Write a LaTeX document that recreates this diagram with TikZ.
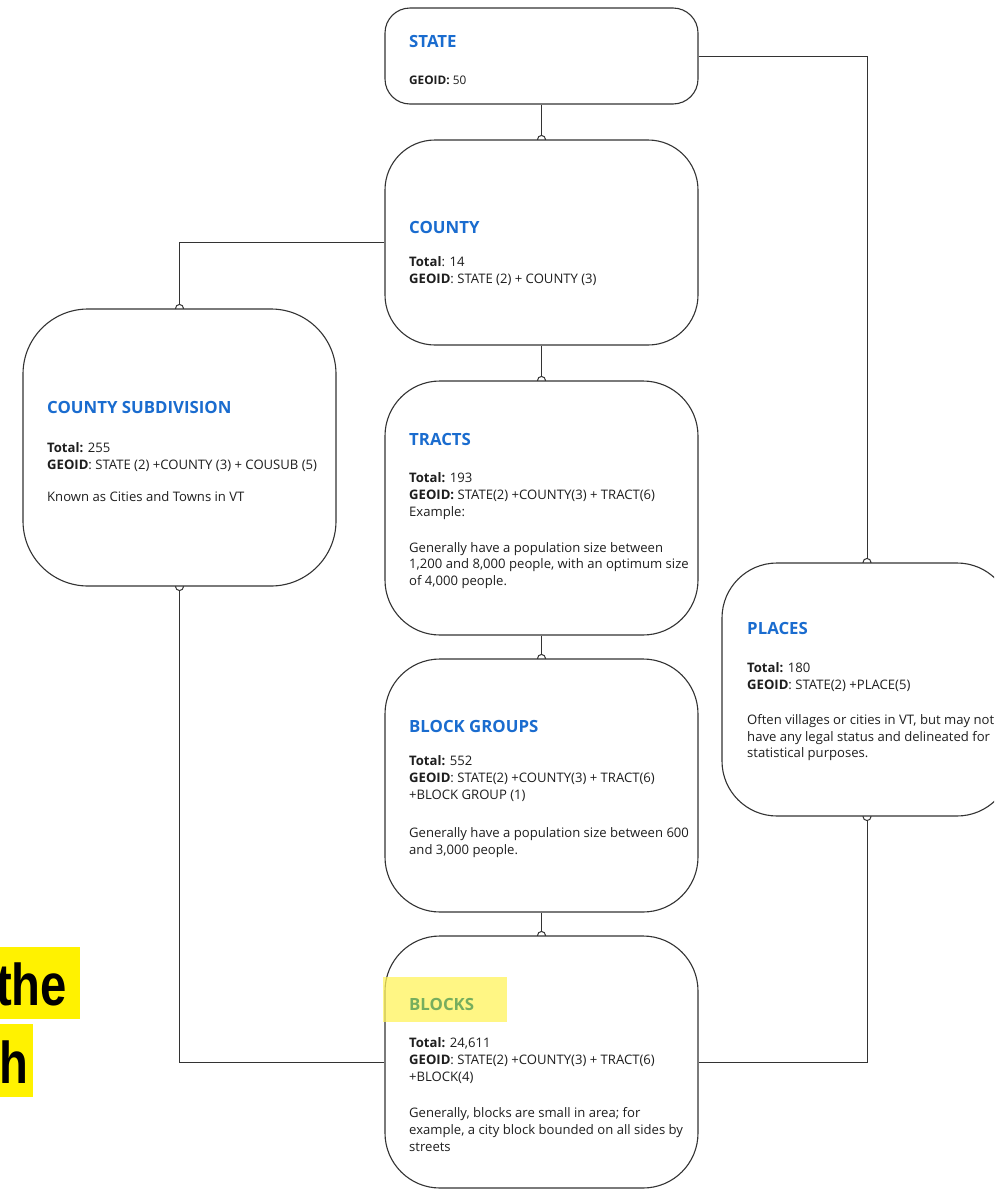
\documentclass[tikz,border=0pt]{standalone}
\usepackage{fontspec}
\setmainfont{Open Sans}
\newfontfamily\hlfont{Liberation Sans}
\usetikzlibrary{backgrounds}
\definecolor{ttl}{HTML}{1A6CCF}
\definecolor{ln}{HTML}{333333}
\definecolor{txt}{HTML}{1E1E1E}
\definecolor{grn}{HTML}{76AE5E}
\definecolor{hl}{HTML}{FFF35C}
\tikzset{
  box/.style={draw=ln, line width=1.1pt, fill=white, rectangle, inner sep=0pt},
  conn/.style={draw=ln, line width=1pt},
  dot/.style={draw=ln, line width=1pt, fill=white},
  ttlt/.style={anchor=base west, inner sep=0pt, text=ttl, font=\fontsize{16.8}{19}\selectfont\bfseries},
  bt/.style={anchor=base west, inner sep=0pt, text=txt, font=\fontsize{13.1}{15}\selectfont},
  st/.style={anchor=base west, inner sep=0pt, text=txt, font=\fontsize{11.8}{13}\selectfont},
  bigt/.style={anchor=base west, inner sep=0pt, text=black, font=\hlfont\bfseries\fontsize{59}{60}\selectfont},
}
\begin{document}
\begin{tikzpicture}[x=1pt,y=-1pt]
\useasboundingbox (0,0) rectangle (994,1189);
\clip (0,0) rectangle (994,1189);
% boxes
\node[box, rounded corners=25pt, minimum width=313pt, minimum height=96pt] (state) at (541.5,56) {};
\node[box, rounded corners=50pt, minimum width=313pt, minimum height=205pt] (county) at (541.5,242.5) {};
\node[box, rounded corners=65pt, minimum width=313pt, minimum height=277pt] (cs) at (179.5,447.5) {};
\node[box, rounded corners=55pt, minimum width=313pt, minimum height=254pt] (tracts) at (541.5,508) {};
\node[box, rounded corners=55pt, minimum width=313pt, minimum height=253pt] (bg) at (541.5,785.5) {};
\node[box, rounded corners=55pt, minimum width=313pt, minimum height=252pt] (blocks) at (541.5,1062) {};
\node[box, rounded corners=55pt, minimum width=290pt, minimum height=253pt] (places) at (867,689.5) {};
% connectors
\begin{scope}[on background layer]
  \fill[white] (0,0) rectangle (994,1189);
  \draw[conn] (state.south) -- (county.north);
  \draw[dot] (county.north) circle (4pt);
  \draw[conn] (state.east) -| (places.north);
  \draw[dot] (places.north) circle (4pt);
  \draw[conn] (county.west) -| (cs.north);
  \draw[dot] (cs.north) circle (4pt);
  \draw[conn] (county.south) -- (tracts.north);
  \draw[dot] (tracts.north) circle (4pt);
  \draw[conn] (tracts.south) -- (bg.north);
  \draw[dot] (bg.north) circle (4pt);
  \draw[conn] (bg.south) -- (blocks.north);
  \draw[dot] (blocks.north) circle (4pt);
  \draw[conn] (blocks.west) -| (cs.south);
  \draw[dot] (cs.south) circle (4pt);
  \draw[conn] (blocks.east) -| (places.south);
  \draw[dot] (places.south) circle (4pt);
\end{scope}
% STATE
\node[ttlt] (state-t) at (409,47) {STATE};
\node[st] (state-g) at (409,84) {\textbf{GEOID:} 50};
% COUNTY
\node[ttlt] (county-t) at (409,233) {COUNTY};
\node[bt] (county-1) at (409,266) {\textbf{Total}: 14};
\node[bt] (county-2) at (409,283) {\textbf{GEOID}: STATE (2) + COUNTY (3)};
% COUNTY SUBDIVISION
\node[ttlt] (cs-t) at (47,413) {COUNTY SUBDIVISION};
\node[bt] (cs-1) at (47,452) {\textbf{Total:} 255};
\node[bt] (cs-2) at (47,469) {\textbf{GEOID}: STATE (2) +COUNTY (3) + COUSUB (5)};
\node[bt] (cs-3) at (47,501) {Known as Cities and Towns in VT};
% TRACTS
\node[ttlt] (tracts-t) at (409,445) {TRACTS};
\node[bt] (tracts-1) at (409,482) {\textbf{Total:} 193};
\node[bt] (tracts-2) at (409,499) {\textbf{GEOID:} STATE(2) +COUNTY(3) + TRACT(6)};
\node[bt] (tracts-3) at (409,516) {Example:};
\node[bt] (tracts-4) at (409,552) {Generally have a population size between};
\node[bt] (tracts-5) at (409,568.5) {1,200 and 8,000 people, with an optimum size};
\node[bt] (tracts-6) at (409,585) {of 4,000 people.};
% BLOCK GROUPS
\node[ttlt] (bg-t) at (409,732) {BLOCK GROUPS};
\node[bt] (bg-1) at (409,765) {\textbf{Total:} 552};
\node[bt] (bg-2) at (409,782) {\textbf{GEOID}: STATE(2) +COUNTY(3) + TRACT(6)};
\node[bt] (bg-3) at (409,799) {+BLOCK GROUP (1)};
\node[bt] (bg-4) at (409,837) {Generally have a population size between 600};
\node[bt] (bg-5) at (409,854) {and 3,000 people.};
% BLOCKS
\fill[hl, opacity=0.75] (383,977) rectangle (507,1022);
\node[ttlt, text=grn] (blocks-t) at (409,1010) {BLOCKS};
\node[bt] (blocks-1) at (409,1047) {\textbf{Total:} 24,611};
\node[bt] (blocks-2) at (409,1064) {\textbf{GEOID}: STATE(2) +COUNTY(3) + TRACT(6)};
\node[bt] (blocks-3) at (409,1081) {+BLOCK(4)};
\node[bt] (blocks-4) at (409,1117) {Generally, blocks are small in area; for};
\node[bt] (blocks-5) at (409,1134) {example, a city block bounded on all sides by};
\node[bt] (blocks-6) at (409,1151) {streets};
% PLACES
\node[ttlt] (places-t) at (747,634) {PLACES};
\node[bt] (places-1) at (747,672) {\textbf{Total:} 180};
\node[bt] (places-2) at (747,689) {\textbf{GEOID}: STATE(2) +PLACE(5)};
\node[bt] (places-3) at (747,724) {Often villages or cities in VT, but may not};
\node[bt] (places-4) at (747,741) {have any legal status and delineated for};
\node[bt] (places-5) at (747,757) {statistical purposes.};
% highlighted fragment at left
\fill[yellow] (0,947) rectangle (80,1019);
\fill[yellow] (0,1024) rectangle (33,1097);
\node[bigt, xscale=0.8] (frag1) at (-4,1005) {the};
\node[bigt, xscale=0.8] (frag2) at (-1,1083) {h};
\end{tikzpicture}
\end{document}
